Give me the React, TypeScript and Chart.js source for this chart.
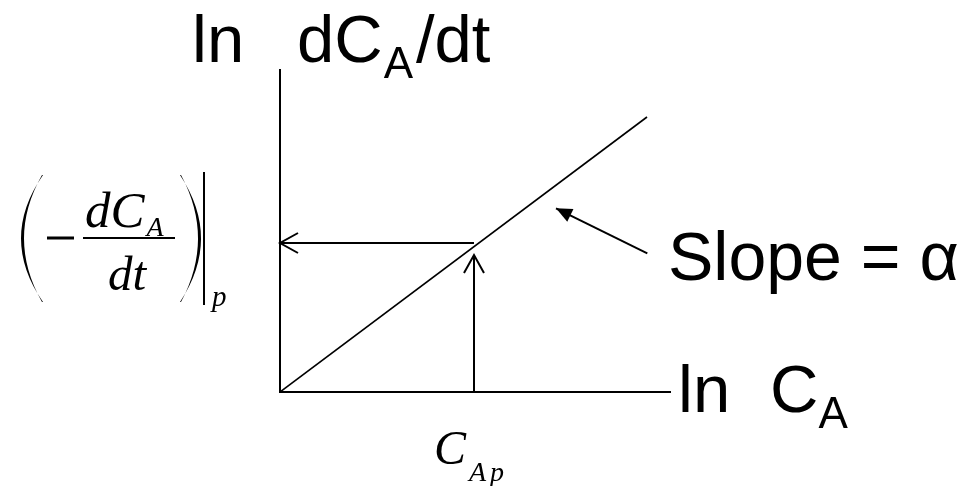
import React, { useEffect, useRef } from "react";
import { Chart, registerables } from "chart.js";

Chart.register(...registerables);

// ln C_A vs ln(-dC_A/dt): straight line through the origin, slope = alpha
const lnCA = [0, 3.67];
const lnRate = [0, 2.75];

// read-off point p
const lnCAp = 1.94;
const lnRateP = 1.49;
const lnRateTip = 1.37;

// pointer from the "Slope = α" label to the line
const pointerX = [3.673, 2.76];
const pointerY = [1.387, 1.837];

const xMax = 3.9;
const yMax = 3.22;

const SANS = '"Liberation Sans", Arial, sans-serif';
const SERIF = '"Liberation Serif", "Times New Roman", serif';

type Pt = { x: number; y: number };

function openHead(ctx: CanvasRenderingContext2D, from: Pt, to: Pt, len: number, half: number) {
  const dx = to.x - from.x;
  const dy = to.y - from.y;
  const d = Math.hypot(dx, dy) || 1;
  const ux = dx / d, uy = dy / d;
  const nx = -uy, ny = ux;
  ctx.beginPath();
  ctx.moveTo(to.x - ux * len + nx * half, to.y - uy * len + ny * half);
  ctx.lineTo(to.x, to.y);
  ctx.lineTo(to.x - ux * len - nx * half, to.y - uy * len - ny * half);
  ctx.stroke();
}

function filledHead(ctx: CanvasRenderingContext2D, from: Pt, to: Pt, len: number, half: number) {
  const dx = to.x - from.x;
  const dy = to.y - from.y;
  const d = Math.hypot(dx, dy) || 1;
  const ux = dx / d, uy = dy / d;
  const nx = -uy, ny = ux;
  ctx.beginPath();
  ctx.moveTo(to.x, to.y);
  ctx.lineTo(to.x - ux * len + nx * half, to.y - uy * len + ny * half);
  ctx.lineTo(to.x - ux * len - nx * half, to.y - uy * len - ny * half);
  ctx.closePath();
  ctx.fill();
}

// text runs drawn one after another: [text, fontSize, baselineShift, gapAfter]
function drawRuns(
  ctx: CanvasRenderingContext2D,
  x: number,
  y: number,
  family: string,
  style: string,
  runs: [string, number, number, number?][]
) {
  let cx = x;
  for (const [t, size, shift, gap] of runs) {
    ctx.font = `${style}${size}px ${family}`;
    ctx.fillText(t, cx, y + shift);
    cx += ctx.measureText(t).width + (gap || 0);
  }
}

function paren(ctx: CanvasRenderingContext2D, xEnd: number, xBulge: number, y0: number, y1: number, thick: number) {
  const ym = (y0 + y1) / 2;
  const cOuter = 2 * xBulge - xEnd;
  const dir = xBulge < xEnd ? 1 : -1;
  const cInner = 2 * (xBulge + dir * thick) - xEnd;
  ctx.beginPath();
  ctx.moveTo(xEnd, y0);
  ctx.quadraticCurveTo(cOuter, ym, xEnd, y1);
  ctx.lineTo(xEnd - dir * 1, y1);
  ctx.quadraticCurveTo(cInner, ym, xEnd - dir * 1, y0);
  ctx.closePath();
  ctx.fill();
}

const annotations = {
  id: "annotations",
  afterDatasetsDraw(chart: any) {
    const ctx: CanvasRenderingContext2D = chart.ctx;
    ctx.save();
    ctx.strokeStyle = "#000";
    ctx.fillStyle = "#000";
    ctx.lineWidth = 2;
    ctx.lineCap = "butt";
    const h = chart.getDatasetMeta(1).data;
    openHead(ctx, h[0], h[1], 18, 10);
    const v = chart.getDatasetMeta(2).data;
    openHead(ctx, v[0], v[1], 18, 10);
    const p = chart.getDatasetMeta(3).data;
    filledHead(ctx, p[0], p[1], 16, 7);
    ctx.restore();
  },
  afterDraw(chart: any) {
    const ctx: CanvasRenderingContext2D = chart.ctx;
    const { left, right, top, bottom } = chart.chartArea;
    const xs = chart.scales.x;
    const ys = chart.scales.y;
    const xp = xs.getPixelForValue(lnCAp);
    const yp = ys.getPixelForValue(lnRateP);
    ctx.save();
    ctx.fillStyle = "#000";
    ctx.strokeStyle = "#000";
    ctx.textAlign = "left";
    ctx.textBaseline = "alphabetic";

    // y-axis label
    ctx.font = `67px ${SANS}`;
    ctx.fillText("ln", left - 88, top - 8);
    drawRuns(ctx, left + 17, top - 8, SANS, "", [["dC", 67, 0, 1], ["A", 44, 16, 3], ["/dt", 67, 0]]);

    // x-axis label
    ctx.font = `67px ${SANS}`;
    ctx.fillText("ln", right + 8, bottom + 20);
    drawRuns(ctx, right + 100, bottom + 20, SANS, "", [["C", 67, 0], ["A", 44, 16]]);

    // slope label
    ctx.font = `68px ${SANS}`;
    ctx.fillText("Slope = α", right - 2, ys.getPixelForValue(1.12));

    // C_Ap below the x axis
    drawRuns(ctx, xp - 40, bottom + 72, SERIF, "italic ", [["C", 48, 0, 3], ["A", 28, 17, 4], ["p", 28, 17]]);

    // (-dC_A/dt)|_p left of the y axis
    const fy = yp - 5;
    paren(ctx, 43, 21, fy - 63, fy + 64, 3.5);
    paren(ctx, 180, 201, fy - 63, fy + 64, 3.5);
    ctx.fillRect(47, fy - 1.5, 27, 3);
    ctx.fillRect(83, fy - 1, 92, 2);
    drawRuns(ctx, 85, fy - 11, SERIF, "italic ", [["dC", 51, 0, 2], ["A", 28, 9]]);
    drawRuns(ctx, 108, fy + 52, SERIF, "italic ", [["dt", 49, 0]]);
    ctx.fillRect(203, fy - 66, 2, 133);
    drawRuns(ctx, 212, fy + 68, SERIF, "italic ", [["p", 29, 0]]);

    ctx.restore();
  },
};

export default function App() {
  const ref = useRef<HTMLCanvasElement | null>(null);

  useEffect(() => {
    if (!ref.current) return;
    const line = (data: Pt[], width: number) => ({
      data,
      borderColor: "#000",
      borderWidth: width,
      pointRadius: 0,
      showLine: true,
      fill: false,
      tension: 0,
    });
    const chart = new Chart(ref.current, {
      type: "scatter",
      data: {
        datasets: [
          line(lnCA.map((x, i) => ({ x, y: lnRate[i] })), 1.6),
          line([{ x: lnCAp, y: lnRateP }, { x: 0, y: lnRateP }], 2),
          line([{ x: lnCAp, y: 0 }, { x: lnCAp, y: lnRateTip }], 2),
          line(pointerX.map((x, i) => ({ x, y: pointerY[i] })), 2),
        ] as any,
      },
      options: {
        responsive: false,
        animation: false,
        events: [],
        layout: { padding: { left: 280, right: 308, top: 70, bottom: 94 }, autoPadding: false },
        plugins: { legend: { display: false }, tooltip: { enabled: false }, title: { display: false } },
        scales: {
          x: {
            type: "linear",
            min: 0,
            max: xMax,
            ticks: { display: false },
            grid: { display: false, drawTicks: false },
            border: { display: true, color: "#000", width: 2 },
          },
          y: {
            type: "linear",
            min: 0,
            max: yMax,
            ticks: { display: false },
            grid: { display: false, drawTicks: false },
            border: { display: true, color: "#000", width: 2 },
          },
        },
      },
      plugins: [annotations],
    });
    return () => chart.destroy();
  }, []);

  return (
    <div style={{ position: "fixed", left: 0, top: 0, width: 978, height: 486, background: "#fff" }}>
      <canvas ref={ref} width={978} height={486} style={{ display: "block" }} />
    </div>
  );
}
